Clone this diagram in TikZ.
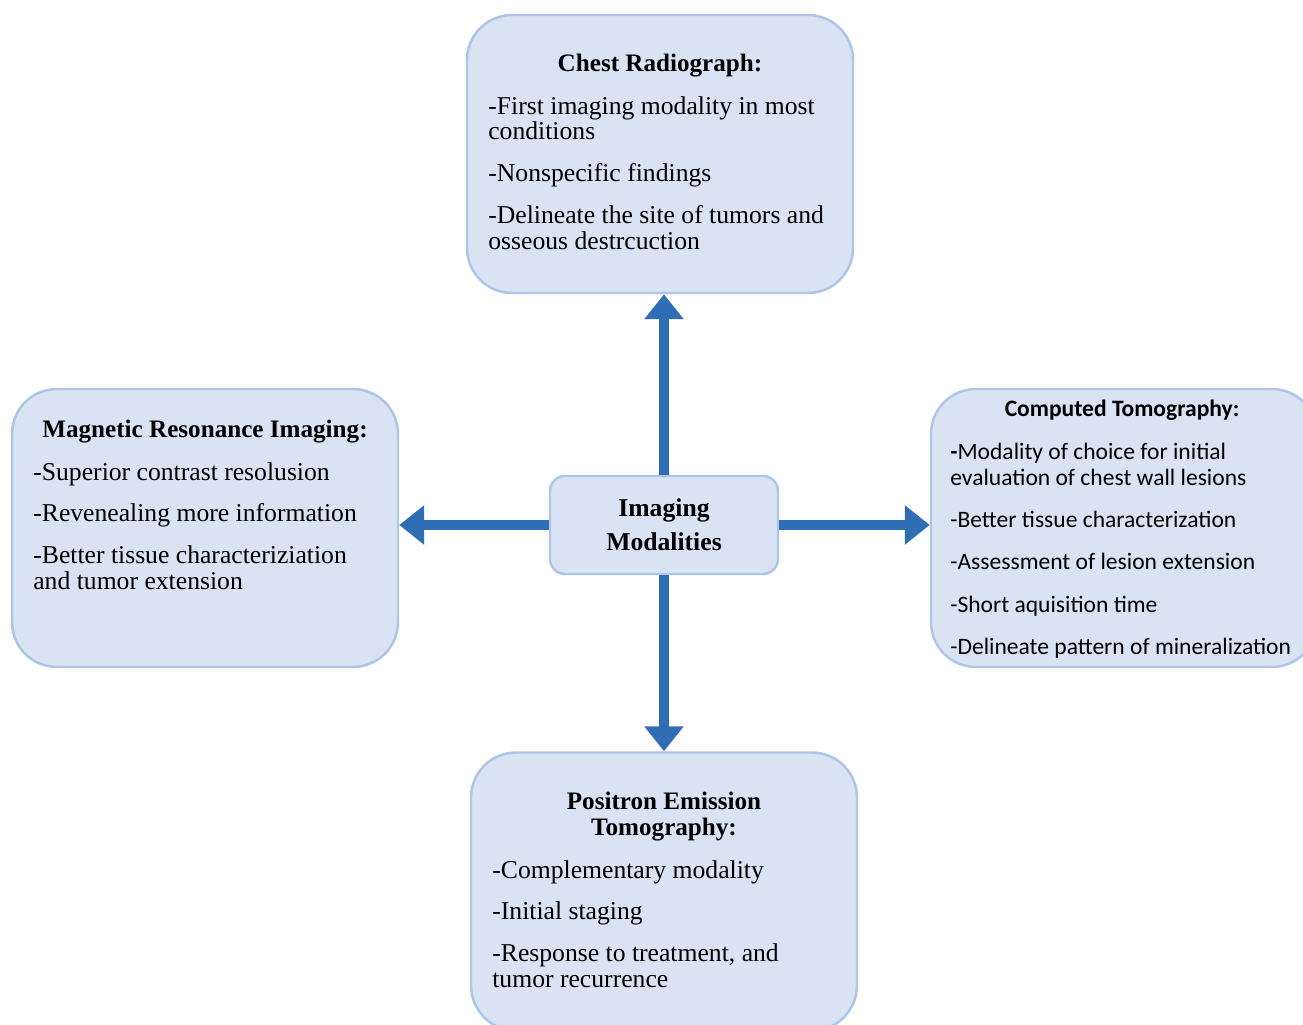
\documentclass[tikz,border=0pt]{standalone}
\usepackage{fontspec}
\setmainfont{Liberation Serif}
\newfontfamily\ctfont{Carlito}
\usepackage{tikz}
\usetikzlibrary{arrows.meta}

\definecolor{boxfill}{HTML}{DAE3F3}
\definecolor{boxline}{HTML}{AFC5E8}
\definecolor{arrowblue}{HTML}{2F6DB5}

\tikzset{
  modbox/.style={draw=boxline, fill=boxfill, line width=1.4pt, rounded corners=0.9cm,
    minimum width=7.72cm, minimum height=5.56cm, inner sep=0pt},
  hubbox/.style={modbox, rounded corners=0.3cm, minimum width=4.56cm, minimum height=1.96cm,
    align=center, font=\fontsize{14.6}{14.7}\selectfont\bfseries},
  modtitle/.style={font=\fontsize{14.3}{14.7}\selectfont\bfseries, inner sep=0pt, anchor=base},
  modlist/.style={font=\fontsize{14.6}{14.7}\selectfont, inner sep=0pt, anchor=north west, align=left},
  cttitle/.style={modtitle, font=\ctfont\fontsize{13.4}{14.7}\selectfont\bfseries},
  ctlist/.style={modlist, font=\ctfont\fontsize{13.4}{14.7}\selectfont},
  link/.style={draw=arrowblue, line width=0.2cm, -{Triangle[length=0.5cm,width=0.76cm]}}
}

\begin{document}
\begin{tikzpicture}
  \useasboundingbox (0,0) rectangle (26.06,-20.5);
  \clip (0,0) rectangle (26.06,-20.5);

  \node[modbox] (chest) at (13.2,-3.08) {};
  \node[modbox] (mri) at (4.1,-10.56) {};
  \node[modbox] (ct) at (22.48,-10.56) {};
  \node[modbox] (pet) at (13.28,-17.83) {};
  \node[hubbox] (hub) at (13.28,-10.5) {Imaging\\[4.6pt]Modalities};

  \node[modtitle] (chestT) at (13.2,-1.44) {Chest Radiograph:};
  \node[modlist] (chestL) at (9.76,-1.92) {-First imaging modality in most\\ conditions\\[9.1pt]
    -Nonspecific findings\\[9.1pt] -Delineate the site of tumors and\\ osseous destrcuction};

  \node[modtitle] (mriT) at (4.1,-8.74) {Magnetic Resonance Imaging:};
  \node[modlist] (mriL) at (0.66,-9.24) {-Superior contrast resolusion\\[9.1pt]
    -Revenealing more information\\[9.1pt] -Better tissue characteriziation\\ and tumor extension};

  \node[cttitle] (ctT) at (22.44,-8.32) {Computed Tomography:};
  \node[ctlist] (ctL) at (19.0,-8.86) {\textbf{-}Modality of choice for initial\\ evaluation of chest wall lesions\\[9.3pt]
    -Better tissue characterization\\[9.3pt] -Assessment of lesion extension\\[9.3pt]
    -Short aquisition time\\[9.3pt] -Delineate pattern of mineralization};

  \node[modtitle, anchor=north, align=center] (petT) at (13.28,-15.84) {Positron Emission\\ Tomography:};
  \node[modlist] (petL) at (9.84,-17.2) {-Complementary modality\\[9.1pt]
    -Initial staging\\[9.1pt] -Response to treatment, and\\ tumor recurrence};

  \draw[link] (hub.north) -- (hub.north |- chest.south);
  \draw[link] (hub.south) -- (hub.south |- pet.north);
  \draw[link] (hub.west) -- (hub.west -| mri.east);
  \draw[link] (hub.east) -- (hub.east -| ct.west);
\end{tikzpicture}
\end{document}
